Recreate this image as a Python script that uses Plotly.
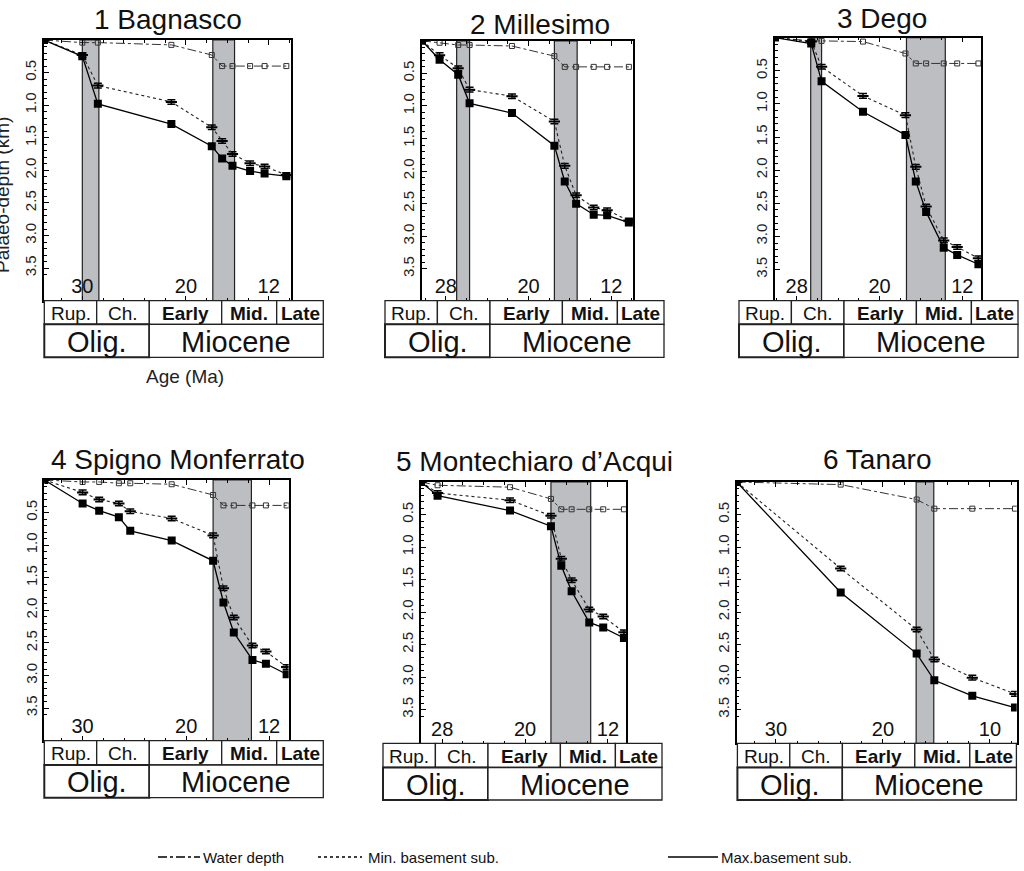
import plotly.graph_objects as go

W, H = 1024, 871
FONT = "Liberation Sans, Arial, sans-serif"

# ---------------- data (ages in Ma, depths in km) ----------------
titles = ["1 Bagnasco", "2 Millesimo", "3 Dego",
          "4 Spigno Monferrato", "5 Montechiaro d\u2019Acqui", "6 Tanaro"]

ages_1 = [33.7, 30.0, 28.5, 21.4, 17.5, 16.5, 15.5, 13.8, 12.4, 10.3]
water_1 = [0, 0.04, 0.04, 0.075, 0.23, 0.40, 0.40, 0.40, 0.40, 0.40]
minsub_1 = [0, 0.23, 0.70, 0.95, 1.34, 1.55, 1.75, 1.89, 1.94, 2.07]
maxsub_1 = [0, 0.25, 0.98, 1.29, 1.63, 1.82, 1.93, 2.01, 2.05, 2.09]

ages_2 = [30.3, 28.6, 26.8, 25.7, 21.6, 17.5, 16.5, 15.4, 13.7, 12.4, 10.3]
water_2 = [0, 0.03, 0.065, 0.065, 0.08, 0.235, 0.40, 0.40, 0.40, 0.40, 0.40]
minsub_2 = [0, 0.22, 0.42, 0.75, 0.85, 1.24, 1.92, 2.37, 2.56, 2.60, 2.76]
maxsub_2 = [0, 0.29, 0.52, 0.96, 1.11, 1.61, 2.16, 2.50, 2.67, 2.68, 2.79]

ages_3 = [30.1, 26.6, 25.6, 21.6, 17.5, 16.5, 15.5, 13.8, 12.5, 10.45]
water_3 = [0, 0.05, 0.05, 0.06, 0.24, 0.39, 0.39, 0.39, 0.39, 0.39]
minsub_3 = [0, 0.06, 0.44, 0.88, 1.17, 1.95, 2.55, 3.06, 3.16, 3.33]
maxsub_3 = [0, 0.09, 0.66, 1.12, 1.47, 2.17, 2.63, 3.17, 3.28, 3.42]

ages_4 = [33.7, 30.0, 28.4, 26.5, 25.4, 21.4, 17.4, 16.4, 15.4, 13.6, 12.3, 10.3]
water_4 = [0, 0.03, 0.03, 0.05, 0.05, 0.065, 0.23, 0.39, 0.39, 0.39, 0.39, 0.39]
minsub_4 = [0, 0.19, 0.30, 0.36, 0.48, 0.59, 0.85, 1.66, 2.11, 2.54, 2.63, 2.87]
maxsub_4 = [0, 0.36, 0.47, 0.57, 0.78, 0.93, 1.24, 1.88, 2.34, 2.76, 2.82, 2.98]

ages_5 = [30.05, 28.45, 21.45, 17.5, 16.5, 15.5, 13.8, 12.45, 10.45]
water_5 = [0, 0.05, 0.08, 0.26, 0.42, 0.42, 0.42, 0.42, 0.42]
minsub_5 = [0, 0.17, 0.28, 0.52, 1.18, 1.51, 1.96, 2.07, 2.31]
maxsub_5 = [0, 0.21, 0.44, 0.68, 1.29, 1.68, 2.16, 2.24, 2.40]

ages_6 = [33.67, 23.95, 16.85, 15.2, 11.65, 7.66]
water_6 = [0, 0.04, 0.27, 0.41, 0.41, 0.41]
minsub_6 = [0, 1.33, 2.27, 2.73, 3.01, 3.26]
maxsub_6 = [0, 1.70, 2.64, 3.05, 3.29, 3.47]

# shaded intervals (Ma)
bands_1 = [(30.0, 28.4), (17.4, 15.3)]
bands_2 = [(26.95, 25.7), (17.5, 15.3)]
bands_3 = [(26.65, 25.6), (17.4, 13.65)]
bands_4 = [(17.4, 13.7)]
bands_5 = [(17.5, 13.66)]
bands_6 = [(16.9, 15.25)]

# age axis labels
ticks_1 = [30, 20, 12]
ticks_2 = [28, 20, 12]
ticks_3 = [28, 20, 12]
ticks_4 = [30, 20, 12]
ticks_5 = [28, 20, 12]
ticks_6 = [30, 20, 10]

depth_ticks = [0.5, 1.0, 1.5, 2.0, 2.5, 3.0, 3.5]

stage_labels = ["Rup.", "Ch.", "Early", "Mid.", "Late"]
stage_bold = [False, False, True, True, True]
epoch_labels = ["Olig.", "Miocene"]

legend_labels = ["Water depth", "Min. basement sub.", "Max.basement sub."]

# ---------------- layout geometry (pixels) ----------------
# plot boxes: left, top, right, bottom
boxes = [(44, 40, 291, 300.7), (422, 40.8, 633, 300.7), (775, 37.6, 981, 300.7),
         (44.3, 480, 288.7, 740.7), (421, 482, 626, 743.3), (736.7, 482, 1016.7, 743.3)]
xranges = [[33.7, 9.85], [30.3, 9.9], [30.1, 10.2], [33.7, 10.1], [30.05, 10.25], [33.67, 7.5]]
yranges = [[4.0, 0], [3.99, 0], [3.97, 0], [4.0, 0], [4.02, 0], [4.02, 0]]
title_pos = [(168, 19), (540, 25), (882, 18), (178, 460), (534, 461), (877, 460)]
# tables: left, top, mid, bottom
tables = [(44.3, 300.7, 324.3, 357.3), (385, 300.7, 324.3, 357.3), (739, 300.7, 324.3, 357.3),
          (44.3, 740.7, 765, 797.7), (383, 743.3, 767.5, 800), (737.4, 743.3, 767.5, 800)]
table_cols = [0, 52.4, 105, 177.4, 232.4, 279]
epoch_split = 105

ages = [ages_1, ages_2, ages_3, ages_4, ages_5, ages_6]
waters = [water_1, water_2, water_3, water_4, water_5, water_6]
mins = [minsub_1, minsub_2, minsub_3, minsub_4, minsub_5, minsub_6]
maxs = [maxsub_1, maxsub_2, maxsub_3, maxsub_4, maxsub_5, maxsub_6]
bands = [bands_1, bands_2, bands_3, bands_4, bands_5, bands_6]
ticks = [ticks_1, ticks_2, ticks_3, ticks_4, ticks_5, ticks_6]


def px(x):
    return x / W


def py(y):
    return 1 - y / H


fig = go.Figure()
shapes = []
annotations = []
layout_axes = {}

for i in range(6):
    n = i + 1
    xa = "x" if n == 1 else f"x{n}"
    ya = "y" if n == 1 else f"y{n}"
    l, t, r, b = boxes[i]

    # water depth
    fig.add_trace(go.Scatter(
        x=ages[i], y=waters[i], xaxis=xa, yaxis=ya, mode="lines+markers",
        line=dict(color="#333", width=1, dash="dashdot"),
        marker=dict(symbol="square-open", size=5, color="#333", line=dict(width=1)),
        showlegend=False, hoverinfo="skip"))
    # minimum basement subsidence
    fig.add_trace(go.Scatter(
        x=ages[i], y=mins[i], xaxis=xa, yaxis=ya, mode="lines+markers",
        line=dict(color="#222", width=1.1, dash="dot"),
        marker=dict(symbol="line-ew", size=8, color="black", line=dict(width=2, color="black")),
        error_y=dict(type="constant", value=0.035, width=4, thickness=1.5, color="black"),
        showlegend=False, hoverinfo="skip"))
    # maximum basement subsidence
    fig.add_trace(go.Scatter(
        x=ages[i], y=maxs[i], xaxis=xa, yaxis=ya, mode="lines+markers",
        line=dict(color="black", width=1.3),
        marker=dict(symbol="square", size=8, color="black"),
        showlegend=False, hoverinfo="skip"))

    axkey = "xaxis" if n == 1 else f"xaxis{n}"
    aykey = "yaxis" if n == 1 else f"yaxis{n}"
    layout_axes[axkey] = dict(
        domain=[px(l), px(r)], range=xranges[i], anchor=ya,
        showline=True, linecolor="black", linewidth=1.5, mirror="ticks",
        ticks="inside", ticklen=5, tickcolor="black",
        tickvals=ticks[i], ticktext=[str(v) for v in ticks[i]],
        ticklabelposition="inside", tickfont=dict(size=20, color="#111", family=FONT),
        minor=dict(ticks="inside", ticklen=3, dtick=2, tick0=0, tickcolor="black"),
        showgrid=False, zeroline=False, fixedrange=True)
    layout_axes[aykey] = dict(
        domain=[py(b), py(t)], range=yranges[i], anchor=xa,
        showline=True, linecolor="black", linewidth=1.5, mirror=True,
        ticks="inside", ticklen=5, tickcolor="black",
        tickvals=depth_ticks, ticktext=[f"{v:.1f}" for v in depth_ticks],
        tickangle=-90, tickfont=dict(size=15, color="#222", family=FONT),
        minor=dict(ticks="inside", ticklen=3, dtick=0.1, tick0=0, tickcolor="black"),
        showgrid=False, zeroline=False, fixedrange=True)

    for (a0, a1) in bands[i]:
        shapes.append(dict(type="rect", xref=xa, yref=f"{ya} domain", x0=a0, x1=a1, y0=0, y1=1,
                           fillcolor="#bdbec2", line=dict(color="#222", width=1.2), layer="below"))

    # title
    tx, ty = title_pos[i]
    annotations.append(dict(text=titles[i], x=px(tx), y=py(ty), xref="paper", yref="paper",
                            xanchor="center", yanchor="middle", showarrow=False,
                            font=dict(size=28, color="#111", family=FONT)))

    # stratigraphic table
    tl, tt, tm, tb = tables[i]
    for k in range(5):
        x0 = tl + table_cols[k]
        x1 = tl + table_cols[k + 1]
        shapes.append(dict(type="rect", xref="paper", yref="paper",
                           x0=px(x0), x1=px(x1), y0=py(tm), y1=py(tt),
                           line=dict(color="#222", width=1.3), fillcolor="white"))
        annotations.append(dict(text=(f"<b>{stage_labels[k]}</b>" if stage_bold[k] else stage_labels[k]),
                                x=px((x0 + x1) / 2), y=py((tt + tm) / 2 + 1), xref="paper", yref="paper",
                                xanchor="center", yanchor="middle", showarrow=False,
                                font=dict(size=19, color="#111", family=FONT)))
    epoch_bounds = [(tl, tl + epoch_split), (tl + epoch_split, tl + table_cols[-1])]
    for k, (x0, x1) in enumerate(epoch_bounds):
        shapes.append(dict(type="rect", xref="paper", yref="paper",
                           x0=px(x0), x1=px(x1), y0=py(tb), y1=py(tm),
                           line=dict(color="#222", width=(2 if k == 0 else 1.3)), fillcolor="white"))
        annotations.append(dict(text=epoch_labels[k], x=px((x0 + x1) / 2), y=py((tm + tb) / 2 + 1),
                                xref="paper", yref="paper", xanchor="center", yanchor="middle",
                                showarrow=False, font=dict(size=29, color="#111", family=FONT)))

# axis labels
annotations.append(dict(text="Age (Ma)", x=px(185), y=py(377), xref="paper", yref="paper",
                        xanchor="center", yanchor="middle", showarrow=False,
                        font=dict(size=19, color="#222", family=FONT)))
annotations.append(dict(text="Palaeo-depth (km)", x=px(3), y=py(195), xref="paper", yref="paper",
                        xanchor="center", yanchor="middle", textangle=-90, showarrow=False,
                        font=dict(size=19, color="#222", family=FONT)))

# legend (drawn manually: line samples + labels)
leg_y = 857
leg_items = [((158, 200), "dashdot", 201), ((318, 362), "dot", 366), ((668, 718), "solid", 719)]
for (seg, dash, tx), lab in zip(leg_items, legend_labels):
    shapes.append(dict(type="line", xref="paper", yref="paper", x0=px(seg[0]), x1=px(seg[1]),
                       y0=py(leg_y), y1=py(leg_y), line=dict(color="black", width=1.3, dash=dash)))
    annotations.append(dict(text=lab, x=px(tx), y=py(leg_y), xref="paper", yref="paper",
                            xanchor="left", yanchor="middle", showarrow=False,
                            font=dict(size=15, color="#111", family=FONT)))

fig.update_layout(width=W, height=H, margin=dict(l=0, r=0, t=0, b=0),
                  paper_bgcolor="white", plot_bgcolor="white",
                  font=dict(family=FONT, color="#111"),
                  shapes=shapes, annotations=annotations, **layout_axes)

fig.write_html("out.html", config={"displayModeBar": False},
               post_script="document.body.style.margin='0';document.body.style.overflow='hidden';")
